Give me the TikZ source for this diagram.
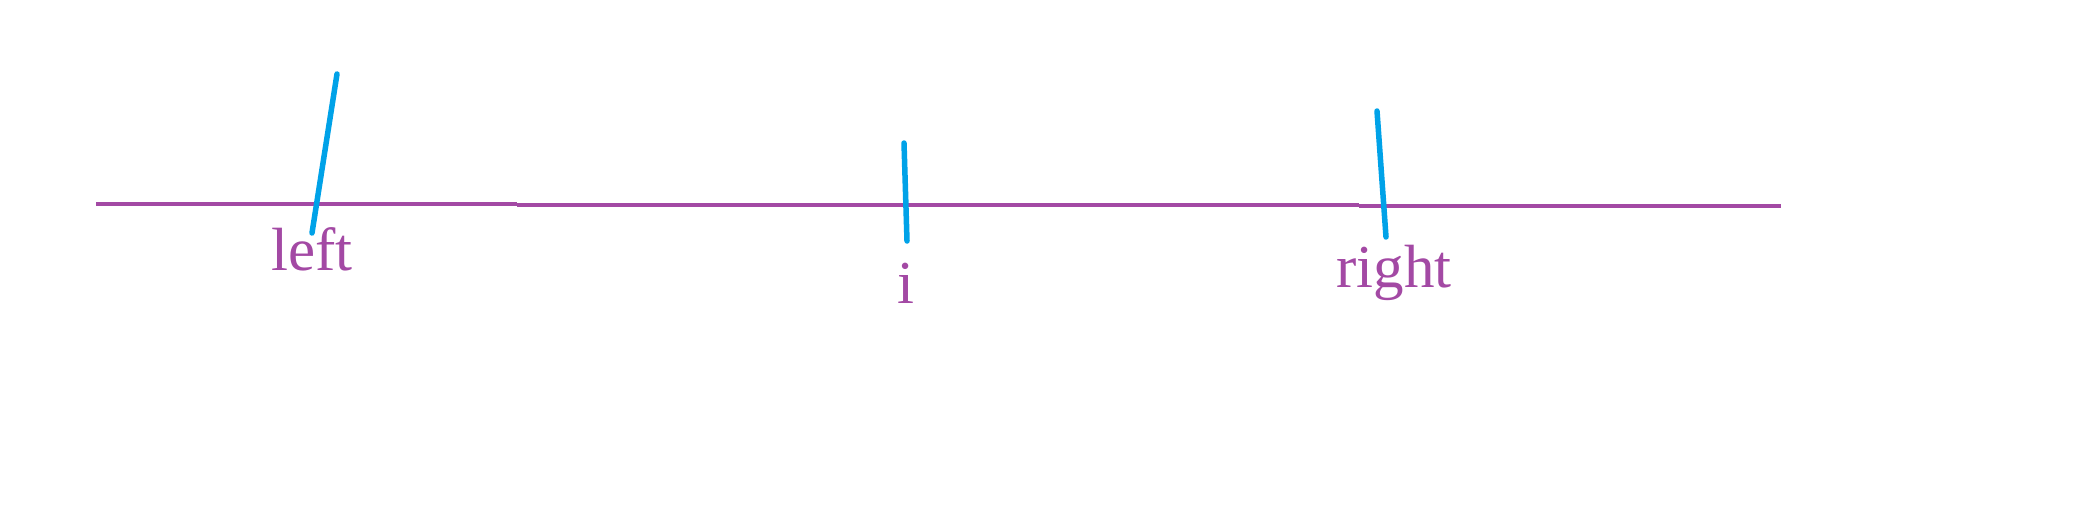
\documentclass[tikz,border=0pt]{standalone}
\usepackage{fontspec}
\setmainfont{Liberation Serif}
\usetikzlibrary{positioning}

\definecolor{paintpurple}{RGB}{163,73,164}
\definecolor{paintblue}{RGB}{0,162,232}

\begin{document}
\begin{tikzpicture}[x=1pt, y=-1pt,
  axis/.style={paintpurple, line width=4.5pt},
  marker/.style={paintblue, line width=5.5pt, line cap=round},
  label/.style={paintpurple, font=\fontsize{61}{64}\selectfont, anchor=base, inner sep=0pt}]

  \useasboundingbox (0,0) rectangle (2079,508);

  % Line (drawn in three strokes)
  \coordinate (A0) at (96,204);
  \coordinate (A1) at (517,204);
  \coordinate (A2) at (517,205);
  \coordinate (A3) at (1359,205);
  \coordinate (A4) at (1359,206);
  \coordinate (A5) at (1781,206);
  \draw[axis] (A0) -- (A1);
  \draw[axis] (A2) -- (A3);
  \draw[axis] (A4) -- (A5);

  % Markers
  \coordinate (Ltop) at (337,74);
  \coordinate (Lbot) at (312,233);
  \coordinate (Itop) at (904,143);
  \coordinate (Ibot) at (907,241);
  \coordinate (Rtop) at (1377,111);
  \coordinate (Rbot) at (1386,237);
  \draw[marker] (Lbot) -- (Ltop);
  \draw[marker] (Ibot) -- (Itop);
  \draw[marker] (Rbot) -- (Rtop);

  % Labels
  \node[label] (left) at (312,270) {left};
  \node[label] (i) at (906,303) {i};
  \node[label] (right) at (1394,287) {right};

\end{tikzpicture}
\end{document}
